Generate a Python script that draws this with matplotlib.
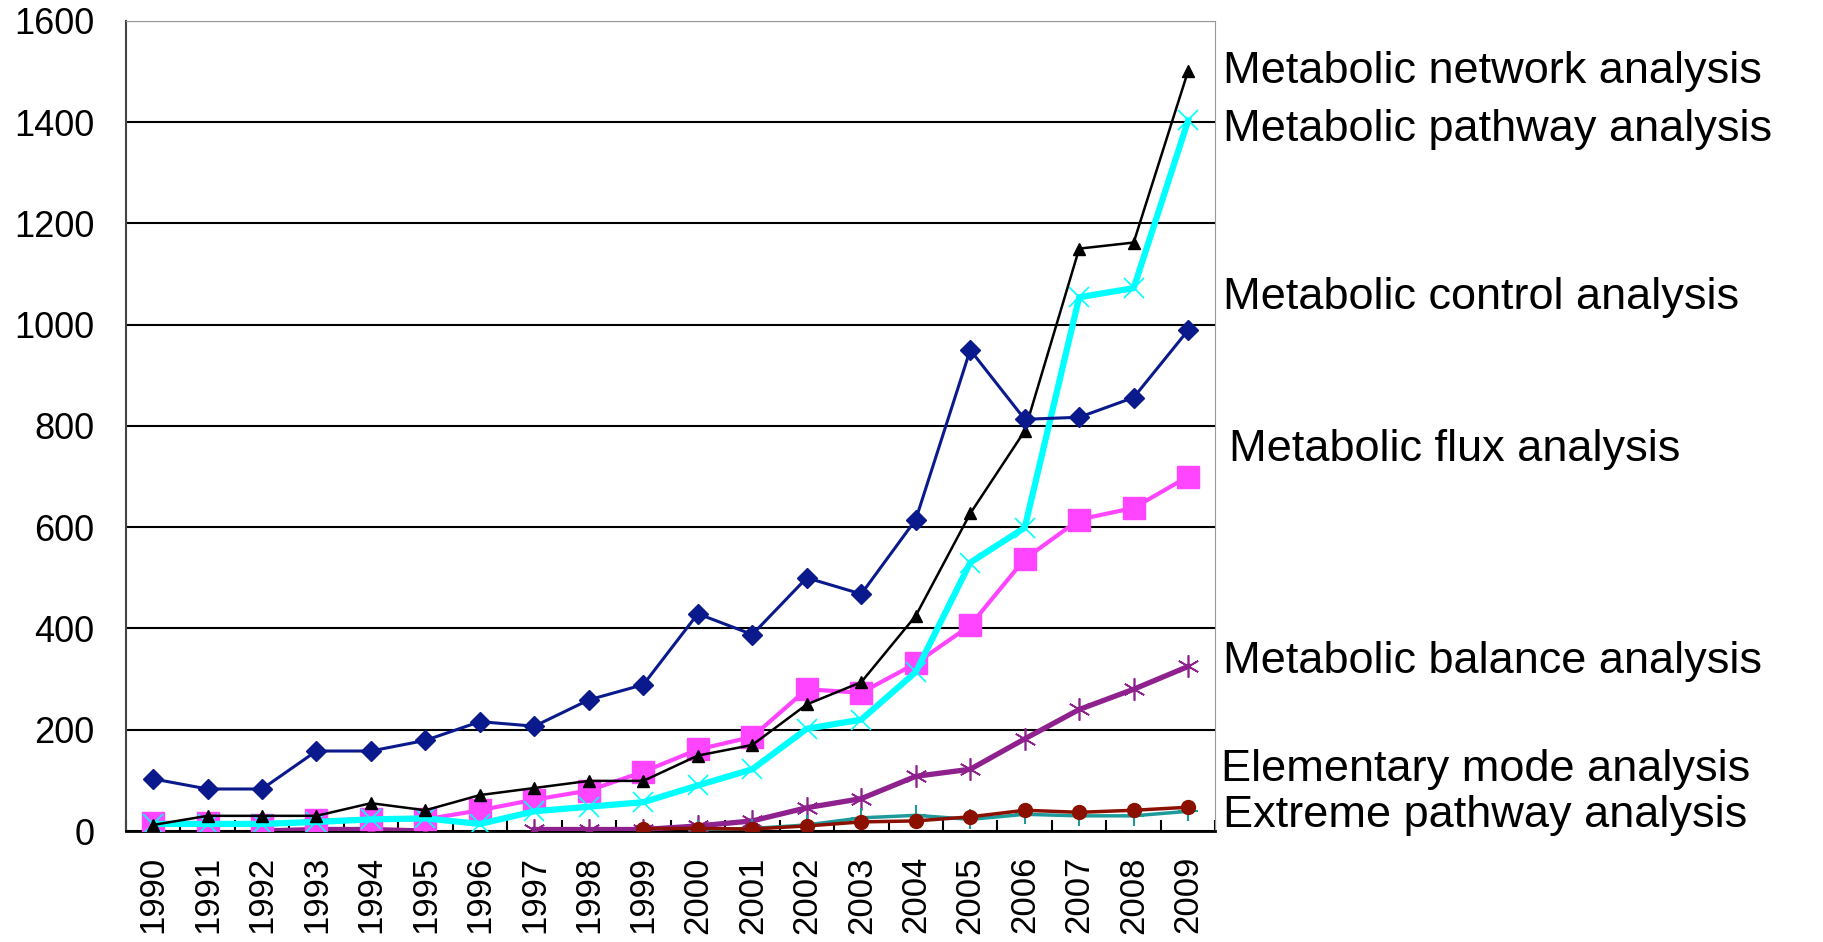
import numpy as np
import matplotlib.pyplot as plt

plt.rcParams['font.family'] = ['Liberation Sans', 'DejaVu Sans']

years = [str(y) for y in range(1990, 2010)]
nan = np.nan

control = [103, 83, 83, 158, 158, 179, 216, 207, 259, 289,
           429, 388, 500, 468, 615, 950, 813, 817, 856, 989]
network = [12, 30, 30, 30, 55, 41, 71, 85, 99, 99,
           149, 170, 250, 294, 425, 627, 790, 1150, 1162, 1501]
pathway = [14, 14, 14, 18, 23, 25, 14, 39, 48, 57,
           90, 122, 202, 220, 314, 530, 599, 1054, 1072, 1403]
flux = [16, 16, 11, 21, 23, 23, 41, 62, 80, 117,
        161, 186, 280, 273, 331, 406, 537, 615, 638, 700]
balance = [nan, nan, 0, 3, 3, 0, nan, 3, 3, 3,
           10, 20, 46, 64, 108, 122, 182, 240, 280, 325]
elementary = [nan, nan, nan, nan, nan, nan, nan, nan, nan, nan,
              3, 5, 12, 26, 31, 23, 33, 30, 30, 39]
extreme = [nan, nan, nan, nan, nan, nan, nan, nan, nan, 5,
           5, 4, 10, 18, 20, 28, 41, 37, 41, 47]

labels = ['Metabolic network analysis', 'Metabolic pathway analysis',
          'Metabolic control analysis', 'Metabolic flux analysis',
          'Metabolic balance analysis', 'Elementary mode analysis',
          'Extreme pathway analysis']
label_y = [71, 130, 298, 449, 661, 769, 816]  # pixel rows of the side labels
label_x = [1223, 1223, 1223, 1229, 1223, 1221, 1223]

fig = plt.figure(figsize=(18.23, 9.42), dpi=100)
ax = fig.add_axes([0.069, 0.1178, 0.5977, 0.8602])
x = np.arange(len(years))

ax.plot(x, balance, color='#8E218E', lw=3.8, marker=(6, 2, 0), ms=16, mew=1.2, zorder=3)
ax.plot(x, elementary, color='#1E9A9A', lw=2.5, marker='+', ms=14, mew=1.5, zorder=4)
ax.plot(x, extreme, color='#8B1000', lw=2.5, marker='o', ms=10, zorder=4)
ax.plot(x, flux, color='#FF45FF', lw=3, marker='s', ms=16, zorder=5)
ax.plot(x, pathway, color='#00FFFF', lw=4.5, marker='x', ms=14, mew=1.2, zorder=6)
ax.plot(x, network, color='black', lw=1.8, marker='^', ms=8, zorder=7)
ax.plot(x, control, color='#0A1A8C', lw=2.2, marker='D', ms=10, zorder=8)

ax.set_xlim(-0.5, 19.5)
ax.set_ylim(0, 1600)
ax.set_yticks(np.arange(0, 1601, 200))
ax.yaxis.grid(True, color='black', lw=1.5)
ax.set_axisbelow(True)
ax.set_xticks(x)
ax.set_xticklabels(years, rotation=90, fontsize=25)
ax.set_xticks(np.arange(-0.5, 20, 1), minor=True)
ax.tick_params(axis='x', which='major', length=0, pad=18)
ax.tick_params(axis='x', which='minor', direction='in', length=8, width=1.5)
ax.tick_params(axis='y', length=0, pad=22.5, labelsize=26)

ax.spines['top'].set_color('#999999')
ax.spines['right'].set_color('#999999')
ax.spines['left'].set_color('#444444')
ax.spines['left'].set_linewidth(1.5)
ax.spines['bottom'].set_linewidth(2)

for lab, ly, lx in zip(labels, label_y, label_x):
    fig.text(lx / 1823, 1 - ly / 942, lab, fontsize=32.5, va='center', ha='left')

plt.savefig('out.png', dpi=100)
